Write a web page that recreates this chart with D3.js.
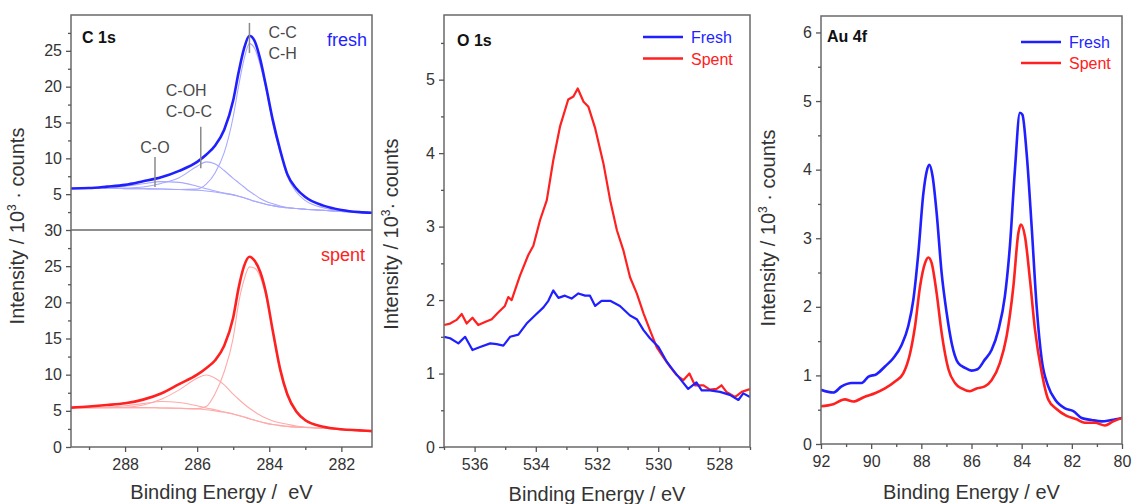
<!DOCTYPE html>
<html>
<head>
<meta charset="utf-8">
<script src="https://cdn.jsdelivr.net/npm/d3@7"></script>
<style>
  body { margin: 0; background: #fff; }
  svg { display: block; }
</style>
</head>
<body>
<script>
var c1sEnergy = [289.5, 289.0, 288.5, 288.0, 287.5, 287.0, 286.5, 286.0, 285.75, 285.5, 285.25, 285.0, 284.85, 284.7, 284.55, 284.4, 284.25, 284.1, 283.9, 283.7, 283.5, 283.25, 283.0, 282.5, 282.0, 281.5, 281.15];

var c1sFreshEnvelope = [5.8, 5.85, 6.05, 6.3, 6.8, 7.35, 8.25, 9.5, 10.5, 11.8, 14.0, 18.1, 22.0, 25.3, 27.1, 26.3, 23.8, 20.3, 15.3, 11.2, 7.8, 5.8, 4.6, 3.4, 2.8, 2.5, 2.4];
var c1sFreshBackground = [5.8, 5.8, 5.8, 5.78, 5.75, 5.72, 5.65, 5.55, 5.45, 5.3, 5.1, 4.9, 4.7, 4.5, 4.25, 4.0, 3.8, 3.6, 3.4, 3.2, 3.1, 3.0, 2.9, 2.75, 2.6, 2.5, 2.4];
var c1sFreshCO = [5.8, 5.8, 5.85, 6.1, 6.45, 6.75, 6.65, 6.1, 5.75, 5.45, 5.15, 4.9, 4.7, 4.5, 4.25, 4.0, 3.8, 3.6, 3.4, 3.2, 3.1, 3.0, 2.9, 2.75, 2.6, 2.5, 2.4];
var c1sFreshCOH = [5.8, 5.8, 5.8, 5.85, 6.0, 6.5, 7.3, 8.9, 9.5, 9.2, 8.3, 7.2, 6.6, 6.0, 5.4, 4.9, 4.4, 4.0, 3.65, 3.35, 3.15, 3.0, 2.9, 2.75, 2.6, 2.5, 2.4];
var c1sFreshCC = [5.8, 5.8, 5.8, 5.78, 5.75, 5.72, 5.66, 5.7, 6.4, 8.0, 10.8, 15.8, 20.1, 23.8, 26.0, 25.3, 23.0, 19.9, 14.8, 10.8, 7.5, 5.3, 4.1, 3.1, 2.65, 2.5, 2.4];

var c1sSpentEnvelope = [5.45, 5.6, 5.8, 6.05, 6.55, 7.4, 8.7, 10.0, 10.9, 12.0, 14.0, 17.9, 22.0, 25.0, 26.3, 25.7, 24.2, 21.5, 16.0, 10.8, 7.3, 4.9, 3.7, 2.8, 2.45, 2.3, 2.2];
var c1sSpentBackground = [5.45, 5.45, 5.45, 5.45, 5.45, 5.4, 5.35, 5.25, 5.15, 5.0, 4.8, 4.55, 4.35, 4.15, 3.9, 3.7, 3.5, 3.3, 3.1, 2.95, 2.85, 2.75, 2.7, 2.6, 2.4, 2.25, 2.2];
var c1sSpentCO = [5.45, 5.45, 5.5, 5.7, 6.0, 6.3, 6.15, 5.7, 5.4, 5.15, 4.85, 4.55, 4.35, 4.15, 3.9, 3.7, 3.5, 3.3, 3.1, 2.95, 2.85, 2.75, 2.7, 2.6, 2.4, 2.25, 2.2];
var c1sSpentCOH = [5.45, 5.45, 5.45, 5.5, 5.8, 6.6, 7.9, 9.5, 9.95, 9.5, 8.6, 7.3, 6.6, 5.95, 5.35, 4.85, 4.4, 4.0, 3.6, 3.35, 3.15, 2.9, 2.75, 2.6, 2.4, 2.25, 2.2];
var c1sSpentCC = [5.45, 5.45, 5.45, 5.45, 5.45, 5.4, 5.35, 5.3, 5.6, 7.4, 10.4, 15.1, 19.9, 23.1, 24.9, 24.7, 23.5, 21.0, 15.7, 10.5, 7.1, 4.8, 3.65, 2.8, 2.45, 2.3, 2.2];

var c1sPeakNames = [["C-O"], ["C-OH", "C-O-C"], ["C-C", "C-H"]];
var c1sPeakEnergies = [287.17, 285.9, 284.55];

// ---- O 1s
var o1sFreshEnergy = [537.0, 536.80, 536.53, 536.31, 536.07, 535.82, 535.49, 535.28, 535.06, 534.84, 534.57, 534.30, 534.03, 533.75, 533.59, 533.43, 533.26, 533.05, 532.83, 532.61, 532.39, 532.23, 532.06, 531.85, 531.57, 531.25, 530.92, 530.70, 530.48, 530.27, 529.99, 529.72, 529.50, 529.29, 529.02, 528.75, 528.58, 528.31, 527.98, 527.66, 527.38, 527.22, 527.0];
var o1sFreshCounts = [1.50, 1.48, 1.41, 1.50, 1.32, 1.36, 1.41, 1.40, 1.38, 1.50, 1.53, 1.68, 1.79, 1.90, 1.99, 2.13, 2.03, 2.06, 2.02, 2.09, 2.06, 2.06, 1.92, 1.99, 1.99, 1.92, 1.79, 1.74, 1.59, 1.48, 1.36, 1.16, 1.04, 0.93, 0.79, 0.88, 0.77, 0.77, 0.75, 0.71, 0.64, 0.73, 0.68];
var o1sSpentEnergy = [537.0, 536.80, 536.59, 536.42, 536.26, 536.07, 535.88, 535.66, 535.44, 535.23, 535.01, 534.90, 534.79, 534.52, 534.25, 534.08, 533.86, 533.64, 533.43, 533.21, 532.94, 532.77, 532.63, 532.44, 532.28, 532.06, 531.79, 531.57, 531.35, 531.14, 530.92, 530.70, 530.48, 530.27, 530.05, 529.83, 529.61, 529.40, 529.18, 528.98, 528.80, 528.52, 528.31, 528.09, 527.93, 527.77, 527.49, 527.27, 527.0];
var o1sSpentCounts = [1.66, 1.68, 1.73, 1.81, 1.68, 1.76, 1.66, 1.70, 1.74, 1.83, 1.92, 2.04, 2.00, 2.33, 2.61, 2.74, 3.09, 3.36, 3.90, 4.36, 4.73, 4.77, 4.88, 4.70, 4.63, 4.34, 3.86, 3.36, 2.95, 2.68, 2.31, 2.09, 1.82, 1.59, 1.36, 1.22, 1.09, 0.98, 0.91, 1.00, 0.84, 0.84, 0.78, 0.79, 0.84, 0.75, 0.68, 0.75, 0.79];

// ---- Au 4f
var au4fFreshEnergy = [92.0, 91.51, 91.18, 90.78, 90.38, 90.12, 89.78, 89.45, 89.12, 88.79, 88.52, 88.32, 88.12, 87.92, 87.79, 87.68, 87.55, 87.39, 87.19, 86.99, 86.79, 86.53, 86.26, 86.00, 85.76, 85.47, 85.20, 84.93, 84.67, 84.47, 84.27, 84.07, 83.97, 83.80, 83.60, 83.40, 83.20, 82.94, 82.67, 82.27, 81.94, 81.61, 81.21, 80.81, 80.42, 80.0];
var au4fFreshCounts = [0.79, 0.75, 0.84, 0.89, 0.89, 0.98, 1.02, 1.13, 1.25, 1.44, 1.72, 2.10, 2.78, 3.65, 3.97, 4.07, 3.90, 3.37, 2.49, 1.91, 1.47, 1.18, 1.11, 1.07, 1.09, 1.23, 1.37, 1.66, 2.15, 2.88, 3.99, 4.83, 4.80, 4.23, 3.16, 1.99, 1.23, 0.84, 0.65, 0.52, 0.48, 0.38, 0.35, 0.33, 0.35, 0.38];
var au4fSpentEnergy = [92.0, 91.51, 91.05, 90.71, 90.25, 89.85, 89.45, 89.05, 88.72, 88.45, 88.25, 88.05, 87.85, 87.72, 87.59, 87.39, 87.19, 86.92, 86.66, 86.39, 86.06, 85.80, 85.47, 85.20, 84.87, 84.60, 84.33, 84.13, 84.03, 83.87, 83.67, 83.47, 83.20, 82.94, 82.61, 82.21, 81.81, 81.48, 81.08, 80.68, 80.35, 80.0];
var au4fSpentCounts = [0.55, 0.58, 0.65, 0.62, 0.69, 0.74, 0.81, 0.91, 1.03, 1.32, 1.72, 2.30, 2.64, 2.72, 2.64, 2.20, 1.62, 1.09, 0.89, 0.81, 0.77, 0.81, 0.84, 0.93, 1.18, 1.57, 2.30, 3.08, 3.20, 3.03, 2.40, 1.67, 1.04, 0.65, 0.51, 0.41, 0.36, 0.31, 0.31, 0.27, 0.33, 0.38];

var legendNames = ["Fresh", "Spent"];

// ---- styles
var FONT = "'Liberation Sans', Arial, sans-serif";
var BLUE = "#1f1fff", RED = "#ff2020";
var LIGHT_BLUE = "#a8a8ff", LIGHT_RED = "#ffaaaa";
var FRAME = "#6a6a6a", INK = "#333";

var width = 1134, height = 504;

var svg = d3.select("body").append("svg")
    .attr("width", width)
    .attr("height", height)
    .style("font-family", FONT);

function zip(xs, ys) { return xs.map(function(x, i) { return [x, ys[i]]; }); }

function addAxis(parent, orient, scale, major, minor, tx, ty) {
  var mk = orient === "left" ? d3.axisLeft : d3.axisBottom;
  var g = parent.append("g").attr("transform", "translate(" + tx + "," + ty + ")");
  g.append("g").call(mk(scale).tickValues(minor).tickSize(3).tickFormat(""));
  g.append("g").call(mk(scale).tickValues(major).tickSize(5)
      .tickPadding(orient === "left" ? 4 : 7).tickFormat(d3.format("d")));
  g.selectAll(".domain").remove();
  g.selectAll("line").attr("stroke", "#555").attr("stroke-width", 1.3);
  g.selectAll("text").attr("fill", INK).style("font-size", "16px").style("font-family", FONT);
  return g;
}

function addFrame(x0, y0, x1, y1) {
  svg.append("rect")
      .attr("x", x0).attr("y", y0)
      .attr("width", x1 - x0).attr("height", y1 - y0)
      .attr("fill", "none").attr("stroke", FRAME).attr("stroke-width", 1.5);
}

function addClip(id, x0, y0, x1, y1) {
  svg.append("clipPath").attr("id", id).append("rect")
      .attr("x", x0).attr("y", y0).attr("width", x1 - x0).attr("height", y1 - y0);
}

// y axis title; the O 1s panel has no space before the dot
function yTitle(cx, cy, tail) {
  var t = svg.append("text")
      .attr("transform", "translate(" + cx + "," + cy + ") rotate(-90)")
      .attr("text-anchor", "middle")
      .attr("fill", INK)
      .style("font-size", "20px")
      .style("white-space", "pre");
  t.append("tspan").text("Intensity / 10");
  t.append("tspan").attr("dy", -8).style("font-size", "12px").text("3");
  t.append("tspan").attr("dy", 8).text(tail);
}

function xTitle(cx, y, label) {
  svg.append("text")
      .attr("x", cx).attr("y", y)
      .attr("text-anchor", "middle")
      .attr("fill", INK)
      .style("font-size", "20px")
      .style("white-space", "pre")
      .text(label);
}

function drawLine(data, x, y, color, w, clip, curve) {
  svg.append("path")
      .datum(data)
      .attr("clip-path", "url(#" + clip + ")")
      .attr("fill", "none")
      .attr("stroke", color)
      .attr("stroke-width", w)
      .attr("stroke-linejoin", "round")
      .attr("d", d3.line().x(function(d) { return x(d[0]); }).y(function(d) { return y(d[1]); }).curve(curve));
}

function legend(x0, y0, gap) {
  [BLUE, RED].forEach(function(c, i) {
    var yy = y0 + i * gap;
    svg.append("line").attr("x1", x0).attr("x2", x0 + 40).attr("y1", yy).attr("y2", yy)
        .attr("stroke", c).attr("stroke-width", 2.5);
    svg.append("text").attr("x", x0 + 48).attr("y", yy + 6).attr("fill", c)
        .style("font-size", "16px").text(legendNames[i]);
  });
}

// ================= Panel 1: C 1s =================
var p1 = { left: 71, right: 372, top: 15, mid: 230, bottom: 447 };
var x1 = d3.scaleLinear().domain([289.5, 281.15]).range([p1.left, p1.right]);
var y1Top = d3.scaleLinear().domain([0, 30]).range([p1.mid, p1.top]);
var y1Bot = d3.scaleLinear().domain([0, 30]).range([p1.bottom, p1.mid]);

addClip("clipC1sTop", p1.left, p1.top, p1.right, p1.mid);
addClip("clipC1sBot", p1.left, p1.mid, p1.right, p1.bottom);

[c1sFreshBackground, c1sFreshCO, c1sFreshCOH, c1sFreshCC].forEach(function(arr) {
  drawLine(zip(c1sEnergy, arr), x1, y1Top, LIGHT_BLUE, 1.1, "clipC1sTop", d3.curveMonotoneX);
});
drawLine(zip(c1sEnergy, c1sFreshEnvelope), x1, y1Top, BLUE, 2.6, "clipC1sTop", d3.curveMonotoneX);

[c1sSpentBackground, c1sSpentCO, c1sSpentCOH, c1sSpentCC].forEach(function(arr) {
  drawLine(zip(c1sEnergy, arr), x1, y1Bot, LIGHT_RED, 1.1, "clipC1sBot", d3.curveMonotoneX);
});
drawLine(zip(c1sEnergy, c1sSpentEnvelope), x1, y1Bot, RED, 2.6, "clipC1sBot", d3.curveMonotoneX);

addFrame(p1.left, p1.top, p1.right, p1.bottom);
svg.append("line").attr("x1", p1.left).attr("x2", p1.right).attr("y1", p1.mid).attr("y2", p1.mid)
    .attr("stroke", FRAME).attr("stroke-width", 1.5);

addAxis(svg, "left", y1Top, [5, 10, 15, 20, 25], [2.5, 7.5, 12.5, 17.5, 22.5, 27.5], p1.left, 0);
addAxis(svg, "left", y1Bot, [0, 5, 10, 15, 20, 25, 30], [2.5, 7.5, 12.5, 17.5, 22.5, 27.5], p1.left, 0);
addAxis(svg, "bottom", x1, [288, 286, 284, 282], [289, 287, 285, 283], 0, p1.bottom);

// peak markers and labels
var markerSpans = [[10.2, 6.0], [14.4, 8.6], [28.9, 24.7]];
c1sPeakEnergies.forEach(function(e, i) {
  var mx = x1(e);
  svg.append("line").attr("x1", mx).attr("x2", mx)
      .attr("y1", y1Top(markerSpans[i][0])).attr("y2", y1Top(markerSpans[i][1]))
      .attr("stroke", "#8a8a8a").attr("stroke-width", 1.5);
});
var labelAnchor = ["middle", "start", "start"];
var labelDx = [0, -35, 19];
var labelY = [y1Top(10.2) - 4, y1Top(14.4) - 31, y1Top(28.9) + 15];
c1sPeakNames.forEach(function(lines, i) {
  var t = svg.append("text")
      .attr("x", x1(c1sPeakEnergies[i]) + labelDx[i])
      .attr("y", labelY[i])
      .attr("text-anchor", labelAnchor[i])
      .attr("fill", "#4a4a4a")
      .style("font-size", "16px");
  lines.forEach(function(s, j) {
    t.append("tspan").attr("x", x1(c1sPeakEnergies[i]) + labelDx[i]).attr("dy", j ? 21 : 0).text(s);
  });
});

svg.append("text").attr("x", 82).attr("y", 43).attr("fill", "#111")
    .style("font-size", "16px").style("font-weight", "bold").text("C 1s");
svg.append("text").attr("x", 367).attr("y", 46).attr("text-anchor", "end").attr("fill", BLUE)
    .style("font-size", "18px").text("fresh");
svg.append("text").attr("x", 365).attr("y", 261).attr("text-anchor", "end").attr("fill", RED)
    .style("font-size", "18px").text("spent");

yTitle(24, 226, " \u00b7 counts");
xTitle((p1.left + p1.right) / 2, 499, "Binding Energy /  eV");

// ================= Panel 2: O 1s =================
var p2 = { left: 444, right: 750, top: 15, bottom: 447 };
var x2 = d3.scaleLinear().domain([537, 527]).range([p2.left, p2.right]);
var y2 = d3.scaleLinear().domain([0, 5.88]).range([p2.bottom, p2.top]);
addClip("clipO1s", p2.left, p2.top, p2.right, p2.bottom);

drawLine(zip(o1sSpentEnergy, o1sSpentCounts), x2, y2, RED, 2.2, "clipO1s", d3.curveLinear);
drawLine(zip(o1sFreshEnergy, o1sFreshCounts), x2, y2, BLUE, 2.2, "clipO1s", d3.curveLinear);

addFrame(p2.left, p2.top, p2.right, p2.bottom);
addAxis(svg, "left", y2, [0, 1, 2, 3, 4, 5], [0.5, 1.5, 2.5, 3.5, 4.5, 5.5], p2.left, 0);
addAxis(svg, "bottom", x2, [536, 534, 532, 530, 528], [537, 535, 533, 531, 529, 527], 0, p2.bottom);

svg.append("text").attr("x", 457).attr("y", 46).attr("fill", "#111")
    .style("font-size", "16px").style("font-weight", "bold").text("O 1s");
legend(643, 37, 21.5);
yTitle(398, 234, "\u00b7 counts");
xTitle((p2.left + p2.right) / 2, 501, "Binding Energy / eV");

// ================= Panel 3: Au 4f =================
var p3 = { left: 821, right: 1122, top: 16, bottom: 444 };
var x3 = d3.scaleLinear().domain([92, 80]).range([p3.left, p3.right]);
var y3 = d3.scaleLinear().domain([0, 6.24]).range([p3.bottom, p3.top]);
addClip("clipAu4f", p3.left, p3.top, p3.right, p3.bottom);

drawLine(zip(au4fFreshEnergy, au4fFreshCounts), x3, y3, BLUE, 2.6, "clipAu4f", d3.curveMonotoneX);
drawLine(zip(au4fSpentEnergy, au4fSpentCounts), x3, y3, RED, 2.6, "clipAu4f", d3.curveMonotoneX);

addFrame(p3.left, p3.top, p3.right, p3.bottom);
addAxis(svg, "left", y3, [0, 1, 2, 3, 4, 5, 6], [0.5, 1.5, 2.5, 3.5, 4.5, 5.5], p3.left, 0);
addAxis(svg, "bottom", x3, [92, 90, 88, 86, 84, 82, 80], [91, 89, 87, 85, 83, 81], 0, p3.bottom);

svg.append("text").attr("x", 827).attr("y", 42).attr("fill", "#111")
    .style("font-size", "16px").style("font-weight", "bold").text("Au 4f");
legend(1021, 42, 21);
yTitle(775, 228, " \u00b7 counts");
xTitle((p3.left + p3.right) / 2, 499, "Binding Energy / eV");
</script>
</body>
</html>
